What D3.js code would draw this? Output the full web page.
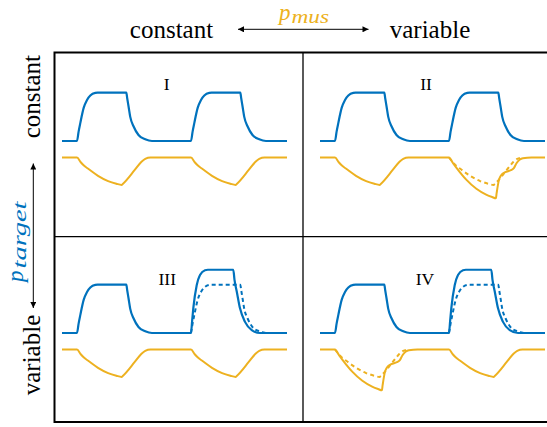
<html>
<script src='https://d3js.org/d3.v7.min.js'></script>
<style>
body {margin: 0; background: white;}
svg text {font-family: 'Liberation Serif', 'Times New Roman', serif; fill: black;}
</style>
<body onload='init()'>
<svg width=547 height=427 font-family="Liberation Serif"></svg>
<script>
// breath onsets (s) and window length, shared by all four panels
var onsets = [0.4, 3.44];
var tEnd = 6;

// one breath of each kind, [time after onset (s), value]
var targetConst = [[0,0],[0.044,2.0],[0.088,3.7],[0.176,6.8],[0.267,8.5],[0.355,9.4],[0.488,9.95],[0.55,10],
  [1.315,10],[1.34,8.8],[1.376,7.1],[1.42,5.0],[1.51,3.0],[1.64,1.24],[1.82,0.35],[2.0,0]];
var targetVar = [[0,0],[0.03,2.5],[0.061,5.1],[0.152,9.9],[0.24,12],[0.373,13.0],[0.45,13.1],
  [1.128,13.1],[1.16,11.0],[1.22,8.6],[1.307,5.1],[1.44,2.3],[1.62,0.6],[1.84,0]];
var musConst = [[0,-3.42],[0.1,-4.4],[0.2,-5.2],[0.29,-5.7],[0.56,-7.2],[0.83,-8.3],[1.05,-8.85],[1.19,-9.1],
  [1.22,-8.9],[1.54,-6.0],[1.72,-4.3],[1.82,-3.7],[1.96,-3.42]];
var musVar = [[0,-3.42],[0.1,-4.5],[0.195,-5.5],[0.46,-8.0],[0.73,-9.9],[0.99,-11.1],[1.15,-11.6],[1.25,-11.85],
  [1.27,-10.8],[1.33,-8.1],[1.39,-7.1],[1.5,-6.45],[1.65,-6.05],[1.73,-5.6],[1.8,-4.6],[1.88,-3.9],[1.97,-3.55],[2.2,-3.42]];

// which breath kind each panel uses in cycle 1 and 2
var panelLabels = ["I", "II", "III", "IV"];
var targetCycles = [["c","c"], ["c","c"], ["c","v"], ["c","v"]];
var musCycles = [["c","c"], ["c","v"], ["c","c"], ["v","c"]];

var blue = "#0072BD", orange = "#EDB120";

function init() {
  var svg = d3.select("svg");

  var xs = [d3.scaleLinear().domain([0, tEnd]).range([62, 287]),
            d3.scaleLinear().domain([0, tEnd]).range([320, 545])];
  var ys = [d3.scaleLinear().domain([0, 10]).range([141, 92.7]),
            d3.scaleLinear().domain([0, 10]).range([333, 284.7])];

  function compose(kinds, cShape, vShape) {
    var base = cShape[0][1];
    var pts = [[0, base]];
    kinds.forEach(function(k, i) {
      (k == "v" ? vShape : cShape).forEach(function(p) { pts.push([p[0] + onsets[i], p[1]]); });
    });
    pts.push([tEnd, base]);
    return pts;
  }
  function shifted(shape, i) {
    return shape.map(function(p) { return [p[0] + onsets[i], p[1]]; });
  }

  // frame
  svg.append("rect").attr("x", 54.5).attr("y", 52.5).attr("width", 520).attr("height", 369.5)
     .attr("fill", "none").attr("stroke", "black").attr("stroke-width", 2);
  svg.append("line").attr("x1", 303).attr("x2", 303).attr("y1", 52).attr("y2", 422)
     .attr("stroke", "black").attr("stroke-width", 1.3);
  svg.append("line").attr("x1", 54).attr("x2", 547).attr("y1", 236.7).attr("y2", 236.7)
     .attr("stroke", "black").attr("stroke-width", 1.3);

  panelLabels.forEach(function(lab, p) {
    var col = p % 2, row = Math.floor(p / 2);
    var x = xs[col], y = ys[row];
    var line = d3.line().x(function(d) { return x(d[0]); }).y(function(d) { return y(d[1]); })
                 .curve(d3.curveMonotoneX);
    var g = svg.append("g");

    // dashed references (constant breath) under the variable ones
    targetCycles[p].forEach(function(k, i) {
      if (k == "v") g.append("path").attr("d", line(shifted(targetConst, i))).attr("fill", "none")
        .attr("stroke", blue).attr("stroke-width", 2).attr("stroke-dasharray", "4,3");
    });
    musCycles[p].forEach(function(k, i) {
      if (k == "v") g.append("path").attr("d", line(shifted(musConst, i))).attr("fill", "none")
        .attr("stroke", orange).attr("stroke-width", 2).attr("stroke-dasharray", "4,3.3");
    });

    g.append("path").attr("d", line(compose(targetCycles[p], targetConst, targetVar))).attr("fill", "none")
     .attr("stroke", blue).attr("stroke-width", 2.2);
    g.append("path").attr("d", line(compose(musCycles[p], musConst, musVar))).attr("fill", "none")
     .attr("stroke", orange).attr("stroke-width", 2);

    g.append("text").attr("x", [166.7, 426, 167.3, 425][p]).attr("y", row ? 285 : 90)
     .attr("text-anchor", "middle").style("font-size", "17.5px").text(lab);
  });

  // arrow heads
  var defs = svg.append("defs");
  defs.append("marker").attr("id", "ah").attr("viewBox", "0 0 10 10").attr("refX", 10).attr("refY", 5)
      .attr("markerWidth", 9).attr("markerHeight", 6).attr("markerUnits", "userSpaceOnUse")
      .attr("orient", "auto-start-reverse")
      .append("path").attr("d", "M0,0L10,5L0,10z").attr("fill", "black");

  // top header
  svg.append("text").attr("x", 171.5).attr("y", 37.7).attr("text-anchor", "middle")
     .style("font-size", "25px").text("constant");
  svg.append("text").attr("x", 430).attr("y", 37.7).attr("text-anchor", "middle")
     .style("font-size", "25px").text("variable");
  svg.append("line").attr("x1", 238).attr("x2", 368.5).attr("y1", 29.3).attr("y2", 29.3)
     .attr("stroke", "black").attr("stroke-width", 1)
     .attr("marker-start", "url(#ah)").attr("marker-end", "url(#ah)");
  var pm = svg.append("text").attr("x", 279).attr("y", 20).style("font-style", "italic")
     .style("fill", orange).style("font-size", "23px");
  pm.append("tspan").text("p");
  pm.append("tspan").attr("x", 291.5).attr("dy", 3).style("font-size", "19px")
     .attr("textLength", 37.5).attr("lengthAdjust", "spacingAndGlyphs").text("mus");

  // left header
  svg.append("text").attr("transform", "translate(40,96.7) rotate(-90)").attr("text-anchor", "middle")
     .style("font-size", "25px").text("constant");
  svg.append("text").attr("transform", "translate(40,355) rotate(-90)").attr("text-anchor", "middle")
     .style("font-size", "25px").text("variable");
  svg.append("line").attr("x1", 33.3).attr("x2", 33.3).attr("y1", 163.5).attr("y2", 308)
     .attr("stroke", "black").attr("stroke-width", 1)
     .attr("marker-start", "url(#ah)").attr("marker-end", "url(#ah)");
  var pt = svg.append("text").attr("transform", "translate(22.5,0) rotate(-90)").style("font-style", "italic")
     .style("fill", blue).style("font-size", "23px");
  pt.append("tspan").attr("x", -282).text("p");
  pt.append("tspan").attr("x", -268.5).attr("dy", 3).style("font-size", "19px")
     .attr("textLength", 67).attr("lengthAdjust", "spacingAndGlyphs").text("target");
}
</script>
</body>
</html>
